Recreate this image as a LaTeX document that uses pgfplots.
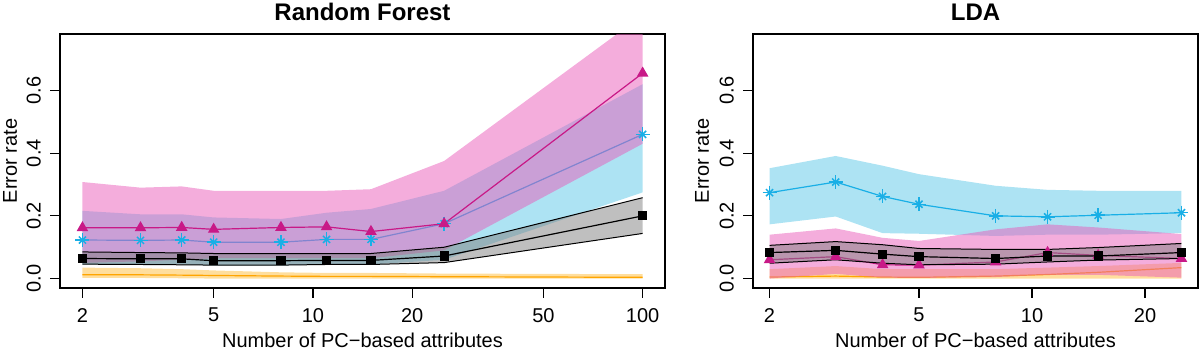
\documentclass[border=0pt]{standalone}
\usepackage{pgfplots}
\pgfplotsset{compat=1.18}
\usepackage{fontspec}
\setmainfont{Liberation Sans}

\definecolor{magline}{RGB}{200,25,135}
\definecolor{cyanline}{RGB}{25,175,230}
\definecolor{orangeline}{RGB}{255,165,0}
\definecolor{pinkband}{RGB}{233,91,185}
\definecolor{cyanband}{RGB}{91,199,231}
\definecolor{greyband}{RGB}{128,128,128}
\definecolor{orangeband}{RGB}{255,190,60}

\pgfplotsset{
  rplot/.style={
    scale only axis,
    height=254pt,
    anchor=south west,
    ymin=-0.03, ymax=0.78,
    ytick={0,0.2,0.4,0.6},
    yticklabels={0.0,0.2,0.4,0.6},
    minor xtick={},
    xtick pos=bottom, ytick pos=left,
    tick align=outside,
    major tick length=10pt,
    every tick/.style={black, line width=1.2pt},
    axis line style={line width=1.6pt},
    tick label style={font=\fontsize{20}{24}\selectfont},
    xticklabel style={anchor=north, inner sep=0pt},
    yticklabel style={rotate=90, anchor=south, inner sep=0pt},
    xticklabel shift=10pt,
    yticklabel shift=9pt,
    label style={font=\fontsize{20}{24}\selectfont},
    every axis title shift=0pt,
    title style={font=\bfseries\fontsize{24}{28}\selectfont, anchor=center},
    xlabel={Number of PC−based attributes},
    ylabel={Error rate},
  },
  band/.style={draw=none, fill=#1, fill opacity=0.5, forget plot},
  mline/.style={line width=1.2pt, color=#1},
}

\begin{document}
\begin{tikzpicture}
\useasboundingbox (0,0) rectangle (1200pt,350pt);

% ---------------- Random Forest ----------------
\begin{semilogxaxis}[rplot,
  at={(60pt,62pt)}, width=605pt,
  xmin=1.71, xmax=116.9,
  xtick={2,5,10,20,50,100},
  xticklabels={2,5,10,20,50,100},
  title={Random Forest},
  title style={at={(0.5,1.0866)}},
  xlabel style={at={(axis description cs:0.5,-0.2047)}, anchor=center},
  ylabel style={at={(axis description cs:-0.0826,0.5)}, anchor=center},
]
% orange
\addplot[band=orangeband] coordinates {
  (2,0.035) (3,0.033) (4,0.030) (5,0.026) (8,0.020) (11,0.018) (15,0.018) (25,0.016) (100,0.014)
  (100,0.000) (25,0.000) (15,0.000) (11,0.000) (8,0.000) (5,0.000) (4,0.001) (3,0.002) (2,0.002)};
\addplot[mline=orangeline] coordinates {
  (2,0.012) (3,0.012) (4,0.011) (5,0.010) (8,0.008) (11,0.007) (15,0.007) (25,0.006) (100,0.004)};
% cyan / stars
\addplot[band=cyanband] coordinates {
  (2,0.216) (3,0.205) (4,0.205) (5,0.195) (8,0.190) (11,0.210) (15,0.222) (25,0.280) (100,0.620)
  (100,0.275) (25,0.060) (15,0.045) (11,0.045) (8,0.042) (5,0.042) (4,0.045) (3,0.045) (2,0.045)};
\addplot[mline=cyanline, mark=+, mark size=7pt, mark options={line width=1.5pt}] coordinates {
  (2,0.123) (3,0.122) (4,0.123) (5,0.116) (8,0.116) (11,0.125) (15,0.125) (25,0.175) (100,0.460)};
\addplot[only marks, mark=x, mark size=5pt, color=cyanline, line width=1.5pt] coordinates {
  (2,0.123) (3,0.122) (4,0.123) (5,0.116) (8,0.116) (11,0.125) (15,0.125) (25,0.175) (100,0.460)};
% pink / triangles
\addplot[band=pinkband] coordinates {
  (2,0.308) (3,0.290) (4,0.294) (5,0.280) (8,0.280) (11,0.280) (15,0.285) (25,0.375) (100,0.840)
  (100,0.430) (25,0.090) (15,0.065) (11,0.065) (8,0.065) (5,0.065) (4,0.060) (3,0.055) (2,0.050)};
\addplot[mline=magline, mark=triangle*, mark size=5.5pt] coordinates {
  (2,0.162) (3,0.162) (4,0.163) (5,0.157) (8,0.163) (11,0.165) (15,0.150) (25,0.175) (100,0.655)};
% grey / squares
\addplot[band=greyband] coordinates {
  (2,0.085) (3,0.083) (4,0.082) (5,0.080) (8,0.080) (11,0.080) (15,0.080) (25,0.100) (100,0.258)
  (100,0.144) (25,0.051) (15,0.045) (11,0.045) (8,0.043) (5,0.043) (4,0.044) (3,0.045) (2,0.046)};
\addplot[black, line width=1pt] coordinates {
  (2,0.085) (3,0.083) (4,0.082) (5,0.080) (8,0.080) (11,0.080) (15,0.080) (25,0.100) (100,0.258)};
\addplot[black, line width=1pt] coordinates {
  (2,0.046) (3,0.045) (4,0.044) (5,0.043) (8,0.043) (11,0.045) (15,0.045) (25,0.051) (100,0.144)};
\addplot[mline=black, mark=square*, mark size=4pt] coordinates {
  (2,0.064) (3,0.063) (4,0.063) (5,0.057) (8,0.057) (11,0.058) (15,0.058) (25,0.072) (100,0.200)};
\end{semilogxaxis}

% ---------------- LDA ----------------
\begin{semilogxaxis}[rplot,
  at={(753pt,62pt)}, width=445pt,
  xmin=1.807, xmax=27.67,
  xtick={2,5,10,20},
  xticklabels={2,5,10,20},
  title={LDA},
  title style={at={(0.5,1.0866)}},
  xlabel style={at={(axis description cs:0.5,-0.2047)}, anchor=center},
  ylabel style={at={(axis description cs:-0.1146,0.5)}, anchor=center},
]
% orange
\addplot[band=orangeband] coordinates {
  (2,0.030) (3,0.040) (4,0.030) (5,0.030) (8,0.030) (11,0.035) (15,0.040) (25,0.050)
  (25,0.000) (15,0.000) (11,0.000) (8,0.000) (5,0.000) (4,0.000) (3,0.000) (2,0.000)};
\addplot[mline=orangeline] coordinates {
  (2,0.005) (3,0.008) (4,0.005) (5,0.004) (8,0.008) (11,0.013) (15,0.020) (25,0.035)};
% cyan / stars
\addplot[band=cyanband] coordinates {
  (2,0.352) (3,0.391) (4,0.360) (5,0.333) (8,0.296) (11,0.283) (15,0.280) (25,0.280)
  (25,0.145) (15,0.140) (11,0.140) (8,0.136) (5,0.143) (4,0.145) (3,0.198) (2,0.173)};
\addplot[mline=cyanline, mark=+, mark size=7pt, mark options={line width=1.5pt}] coordinates {
  (2,0.274) (3,0.308) (4,0.262) (5,0.237) (8,0.200) (11,0.197) (15,0.202) (25,0.210)};
\addplot[only marks, mark=x, mark size=5pt, color=cyanline, line width=1.5pt] coordinates {
  (2,0.274) (3,0.308) (4,0.262) (5,0.237) (8,0.200) (11,0.197) (15,0.202) (25,0.210)};
% pink / triangles
\addplot[band=pinkband] coordinates {
  (2,0.140) (3,0.160) (4,0.130) (5,0.120) (8,0.157) (11,0.173) (15,0.163) (25,0.142)
  (25,0.003) (15,0.012) (11,0.012) (8,0.005) (5,0.002) (4,0.003) (3,0.015) (2,0.000)};
\addplot[mline=magline, mark=triangle*, mark size=5.5pt] coordinates {
  (2,0.060) (3,0.070) (4,0.044) (5,0.043) (8,0.053) (11,0.083) (15,0.074) (25,0.064)};
% grey / squares
\addplot[band=greyband] coordinates {
  (2,0.106) (3,0.118) (4,0.108) (5,0.096) (8,0.093) (11,0.093) (15,0.099) (25,0.112)
  (25,0.064) (15,0.059) (11,0.053) (8,0.046) (5,0.044) (4,0.049) (3,0.060) (2,0.049)};
\addplot[black, line width=1pt] coordinates {
  (2,0.106) (3,0.118) (4,0.108) (5,0.096) (8,0.093) (11,0.093) (15,0.099) (25,0.112)};
\addplot[black, line width=1pt] coordinates {
  (2,0.049) (3,0.060) (4,0.049) (5,0.044) (8,0.046) (11,0.053) (15,0.059) (25,0.064)};
\addplot[mline=black, mark=square*, mark size=4pt] coordinates {
  (2,0.083) (3,0.090) (4,0.078) (5,0.070) (8,0.064) (11,0.072) (15,0.072) (25,0.083)};
\end{semilogxaxis}
\end{tikzpicture}
\end{document}
